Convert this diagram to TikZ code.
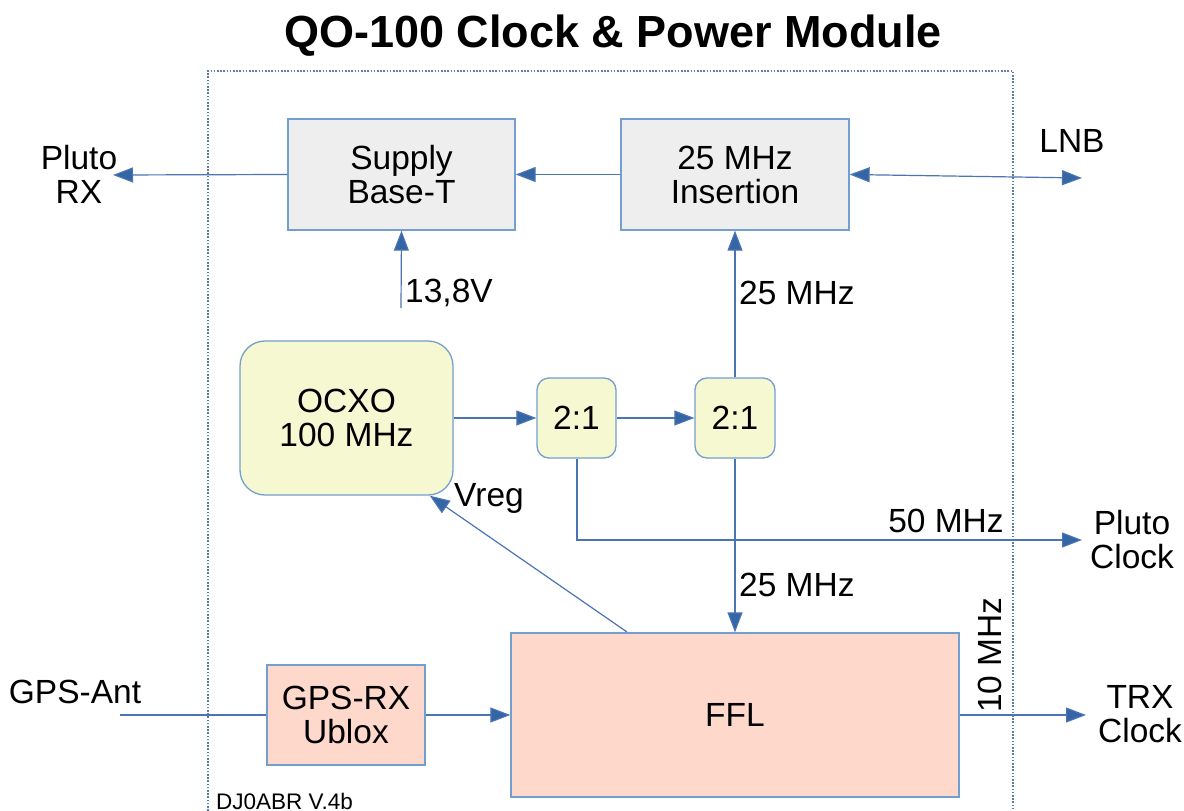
\documentclass[tikz,border=0pt]{standalone}
\usepackage{fontspec}
\setmainfont{Liberation Sans}
\usetikzlibrary{arrows.meta}
\definecolor{lineblue}{HTML}{4A74B4}
\definecolor{tipblue}{HTML}{3465A4}
\definecolor{boxborder}{HTML}{729FCF}
\definecolor{greyfill}{HTML}{EEEEEE}
\definecolor{yellowfill}{HTML}{F6F8D2}
\definecolor{salmonfill}{HTML}{FFD8CC}
\begin{document}
\begin{tikzpicture}[x=1pt,y=-1pt,
  every node/.style={font=\fontsize{33.5}{34}\selectfont, inner sep=0pt, align=center},
  blk/.style={draw=boxborder, line width=1.3pt, minimum width=#1},
  greybox/.style={blk=227pt, fill=greyfill, minimum height=111pt},
  conn/.style={draw=lineblue, line width=1.2pt},
  arr/.style={conn, -{Triangle[length=20pt,width=15pt,fill=tipblue]}},
  darr/.style={conn, {Triangle[length=20pt,width=15pt,fill=tipblue]}-{Triangle[length=20pt,width=15pt,fill=tipblue]}},
  lbl/.style={anchor=west}
]
\useasboundingbox (0,0) rectangle (1184,811);
\fill[white] (0,0) rectangle (1184,811);

% title
\node[font=\fontsize{45}{50}\selectfont\bfseries] (title) at (613,36) {QO-100 Clock \& Power Module};

% frame
\draw[boxborder!80!black, line width=1.1pt, dash pattern=on 1.6pt off 1.6pt] (208,830) -- (208,71) -- (1013,71) -- (1013,830);

% blocks
\node[greybox] (supply) at (401.5,174.5) {Supply\\Base-T};
\node[greybox, minimum width=228pt] (ins) at (735,174.5) {25 MHz\\Insertion};
\node[blk=213pt, fill=yellowfill, minimum height=154pt, rounded corners=25pt] (ocxo) at (346.5,418) {OCXO\\100 MHz};
\node[blk=79pt, fill=yellowfill, minimum height=80pt, rounded corners=12pt] (d1) at (576.5,418) {2:1};
\node[blk=80pt, fill=yellowfill, minimum height=80pt, rounded corners=12pt] (d2) at (735,418) {2:1};
\node[blk=448pt, fill=salmonfill, minimum height=164pt] (ffl) at (735,715) {FFL};
\node[blk=158pt, fill=salmonfill, minimum height=100pt] (gps) at (346,715) {GPS-RX\\Ublox};

% outside labels
\node (plutorx) at (79,174) {Pluto\\RX};
\node (lnb) at (1072,141) {LNB};
\node (pclock) at (1132,540) {Pluto\\Clock};
\node (trx) at (1140,714) {TRX\\Clock};
\node (gpsant) at (75,692) {GPS-Ant};
\node[font=\fontsize{22.5}{24}\selectfont, anchor=west] (ver) at (216,801) {DJ0ABR V.4b};

% free-end coordinates
\coordinate (prxtip) at (113,175);
\coordinate (lnbtip) at (1082,178);
\coordinate (pclktip) at (1082,540);
\coordinate (trxtip) at (1086,715);
\coordinate (antstart) at (120,715);
\coordinate (vin) at (401,308);
\coordinate (vregstart) at (627,632);
\coordinate (bend) at (577,540);

% connectors
\draw[arr] (supply.west) -- (prxtip);
\draw[arr] (ins.west) -- (supply.east);
\draw[darr] (ins.east) -- (lnbtip);
\draw[arr] (vin) -- (supply.south);
\draw[arr] (d2.north) -- (ins.south);
\draw[arr] (ocxo.east) -- (d1.west);
\draw[arr] (d1.east) -- (d2.west);
\draw[arr] (d1.south -| bend) -- (bend) -- (pclktip);
\draw[arr] (d2.south) -- (ffl.north -| d2.south);
\draw[arr] (vregstart) -- (ocxo.-43);
\draw[conn] (antstart) -- (gps.west);
\draw[arr] (gps.east) -- (ffl.west);
\draw[arr] (ffl.east) -- (trxtip);

% connector labels
\node[lbl] (l138) at (405,293) {13,8V};
\node[lbl] (l25a) at (739,293) {25 MHz};
\node[lbl] (l25b) at (739,585) {25 MHz};
\node (l50) at (946,521) {50 MHz};
\node (lvreg) at (489,498) {Vreg};
\node[rotate=90] (l10) at (990,655) {10 MHz};
\end{tikzpicture}
\end{document}
